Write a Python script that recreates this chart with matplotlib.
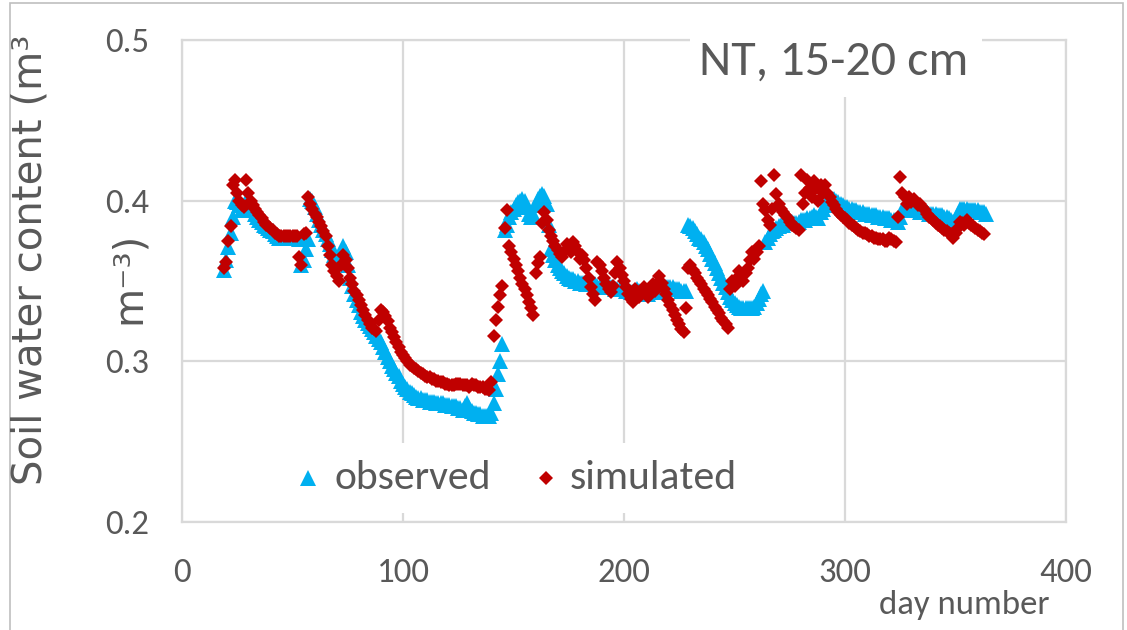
import matplotlib
matplotlib.use("Agg")
import matplotlib.pyplot as plt
from matplotlib.patches import Rectangle
import numpy as np

# soil water content, one value per day
first_day = 19

observed = [
    .357, .363, .371, .380, .390, .400, .399, .397, .395, .394,  # 19
    .400, .398, .396, .394, .392, .390, .388, .387, .385, .384,  # 29
    .383, .382, .381, .379, .378, .377, .377, .377, .377, .377,  # 39
    .377, .377, .377, .377, .376, .360, .363, .370, .376, .401,  # 49
    .400, .396, .392, .388, .385, .382, .379, .376, .373, .369,  # 59
    .366, .363, .361, .368, .372, .368, .360, .352, .347, .342,  # 69
    .338, .335, .331, .328, .326, .324, .322, .320, .318, .316,  # 79
    .314, .312, .309, .306, .303, .300, .297, .295, .293, .291,  # 89
    .288, .286, .284, .283, .281, .280, .279, .278, .277, .277,  # 99
    .276, .276, .276, .275, .275, .275, .274, .274, .274, .274,  # 109
    .273, .273, .273, .272, .272, .272, .271, .271, .270, .272,  # 119
    .274, .271, .269, .268, .268, .267, .267, .266, .266, .266,  # 129
    .266, .268, .274, .283, .292, .300, .311, .382, .385, .390,  # 139
    .393, .395, .397, .399, .400, .401, .400, .396, .392, .390,  # 149
    .392, .397, .401, .403, .404, .403, .398, .385, .370, .366,  # 159
    .363, .360, .358, .356, .355, .353, .352, .351, .351, .350,  # 169
    .350, .349, .349, .349, .348, .348, .348, .348, .348, .347,  # 179
    .347, .347, .347, .346, .346, .346, .346, .345, .345, .345,  # 189
    .345, .345, .344, .344, .343, .343, .344, .345, .344, .343,  # 199
    .342, .342, .342, .343, .344, .344, .343, .343, .344, .346,  # 209
    .346, .346, .346, .346, .345, .345, .345, .344, .344, .344,  # 219
    .385, .384, .383, .381, .379, .377, .376, .374, .372, .370,  # 229
    .367, .364, .361, .358, .355, .352, .349, .346, .343, .340,  # 239
    .338, .336, .335, .334, .333, .333, .333, .333, .333, .333,  # 249
    .334, .336, .339, .342, .344, .374, .377, .379, .381, .382,  # 259
    .383, .384, .385, .385, .386, .386, .387, .387, .386, .386,  # 269
    .387, .388, .388, .388, .389, .389, .390, .391, .390, .389,  # 279
    .393, .395, .397, .399, .400, .401, .401, .400, .399, .398,  # 289
    .397, .396, .396, .395, .395, .394, .394, .393, .393, .393,  # 299
    .392, .392, .392, .391, .391, .391, .390, .390, .390, .389,  # 309
    .389, .389, .388, .388, .388, .387, .390, .394, .395, .395,  # 319
    .395, .394, .394, .394, .394, .393, .393, .393, .393, .392,  # 329
    .392, .392, .392, .391, .391, .391, .390, .390, .389, .388,  # 339
    .387, .388, .392, .395, .395, .395, .395, .394, .394, .394,  # 349
    .394, .394, .393, .393, .393, .392,                          # 359
]

simulated = [
    .358, .362, .375, .384, .410, .413, .405, .400, .397, .396,  # 19
    .413, .405, .400, .397, .395, .393, .391, .389, .387, .385,  # 29
    .384, .383, .382, .380, .379, .378, .378, .378, .378, .378,  # 39
    .378, .378, .378, .378, .365, .360, .379, .380, .402, .398,  # 49
    .395, .392, .390, .387, .384, .381, .378, .372, .366, .360,  # 59
    .356, .353, .350, .360, .366, .363, .358, .352, .348, .344,  # 69
    .341, .338, .335, .332, .329, .326, .323, .321, .320, .319,  # 79
    .326, .332, .331, .328, .325, .321, .318, .315, .312, .309,  # 89
    .306, .304, .302, .300, .298, .297, .296, .295, .294, .293,  # 99
    .292, .291, .290, .290, .289, .289, .288, .288, .287, .287,  # 109
    .286, .286, .285, .285, .285, .286, .286, .286, .285, .285,  # 119
    .285, .284, .286, .285, .285, .284, .284, .284, .283, .283,  # 129
    .282, .287, .316, .326, .334, .341, .347, .383, .394, .372,  # 139
    .368, .364, .360, .356, .352, .348, .345, .341, .337, .333,  # 149
    .329, .355, .361, .365, .386, .393, .388, .382, .378, .375,  # 159
    .372, .369, .367, .365, .368, .373, .371, .368, .374, .372,  # 169
    .368, .364, .366, .363, .358, .352, .346, .342, .338, .362,  # 179
    .360, .356, .352, .348, .345, .343, .347, .355, .362, .358,  # 189
    .354, .350, .346, .342, .339, .337, .345, .343, .340, .344,  # 199
    .346, .343, .340, .345, .348, .344, .348, .353, .349, .345,  # 209
    .342, .338, .335, .332, .329, .326, .323, .320, .318, .333,  # 219
    .358, .360, .357, .355, .352, .350, .348, .345, .343, .341,  # 229
    .339, .337, .334, .332, .330, .327, .325, .323, .321, .345,  # 239
    .350, .347, .352, .356, .353, .350, .355, .358, .363, .368,  # 249
    .364, .368, .372, .412, .398, .394, .388, .385, .395, .416,  # 259
    .404, .398, .395, .393, .391, .389, .387, .385, .384, .383,  # 269
    .382, .416, .398, .405, .413, .408, .402, .412, .408, .400,  # 279
    .410, .405, .410, .405, .402, .399, .397, .395, .393, .391,  # 289
    .390, .389, .388, .386, .385, .384, .383, .382, .381, .380,  # 299
    .380, .379, .378, .378, .377, .377, .376, .376, .376, .375,  # 309
    .375, .377, .376, .375, .374, .390, .415, .405, .402, .398,  # 319
    .402, .399, .401, .399, .397, .398, .396, .394, .392, .390,  # 329
    .389, .388, .386, .385, .384, .383, .382, .381, .380, .379,  # 339
    .377, .380, .383, .387, .386, .385, .388, .386, .385, .384,  # 349
    .383, .382, .381, .380, .379,                                # 359
]

obs_days = np.arange(first_day, first_day + len(observed))
sim_days = np.arange(first_day, first_day + len(simulated))

xticks = [0, 100, 200, 300, 400]
yticks = [0.2, 0.3, 0.4, 0.5]

blue = "#00B0F0"
red = "#C00000"
txt = "#595959"
grid = "#D9D9D9"
calib = ["Carlito", "Lato", "DejaVu Sans"]

fig = plt.figure(figsize=(11.27, 6.30), dpi=100)
ax = fig.add_axes([182 / 1127, 108 / 630, 884 / 1127, 482 / 630])

ax.plot(obs_days, observed, linestyle="none", marker="^", markersize=11,
        color=blue, markeredgewidth=0, zorder=3)
ax.plot(sim_days, simulated, linestyle="none", marker="D", markersize=7.5,
        color=red, markeredgewidth=0, zorder=4)

ax.set_xlim(0, 400)
ax.set_ylim(0.2, 0.5)
ax.set_xticks(xticks)
ax.set_yticks(yticks)
ax.set_xticklabels([str(v) for v in xticks], family=calib, fontsize=25, color=txt)
ax.set_yticklabels([f"{v:.1f}" for v in yticks], family=calib, fontsize=25, color=txt)
ax.tick_params(length=0)
ax.tick_params(axis="x", pad=26)
ax.tick_params(axis="y", pad=24)
ax.grid(True, color=grid, linewidth=1.6, zorder=0)
ax.set_axisbelow(True)
for s in ax.spines.values():
    s.set_color(grid)
    s.set_linewidth(1.6)

# title box
ax.add_patch(Rectangle((0.575, 0.882), 0.33, 0.14, transform=ax.transAxes,
                       facecolor="white", edgecolor="none", clip_on=False, zorder=5))
ax.text(0.737, 0.955, "NT, 15-20 cm", transform=ax.transAxes, ha="center", va="center",
        family=calib, fontsize=36, color=txt, zorder=6)

# legend box, drawn by hand
ax.add_patch(Rectangle((0.122, 0.019), 0.52, 0.145, transform=ax.transAxes,
                       facecolor="white", edgecolor="none", clip_on=False, zorder=5))
ax.plot([0.1425], [0.0913], transform=ax.transAxes, marker="^", markersize=12,
        color=blue, markeredgewidth=0, linestyle="none", clip_on=False, zorder=6)
ax.text(0.172, 0.0913, "observed", transform=ax.transAxes, ha="left", va="center",
        family=calib, fontsize=30, color=txt, zorder=6)
ax.plot([0.4118], [0.0913], transform=ax.transAxes, marker="D", markersize=7,
        color=red, markeredgewidth=0, linestyle="none", clip_on=False, zorder=6)
ax.text(0.4389, 0.0913, "simulated", transform=ax.transAxes, ha="left", va="center",
        family=calib, fontsize=30, color=txt, zorder=6)

# axis titles
fig.text(42 / 1127, 1 - 260 / 630, "Soil water content (m\u00b3", rotation=90,
         rotation_mode="anchor", ha="center", va="baseline", fontsize=29,
         color=txt, family="DejaVu Sans")
fig.text(140 / 1127, 1 - 278 / 630, "m\u207b\u00b3)", rotation=90,
         rotation_mode="anchor", ha="center", va="baseline", fontsize=29,
         color=txt, family="DejaVu Sans")
fig.text(964 / 1127, 1 - 605 / 630, "day number", ha="center", va="center",
         family=calib, fontsize=25, color=txt)

# outer chart border
fig.patches.append(Rectangle((10 / 1127, -0.1), 1113 / 1127, 1.1 - 3 / 630,
                             transform=fig.transFigure, facecolor="none",
                             edgecolor="#BFBFBF", linewidth=1.2))

fig.savefig("out.png", dpi=100)
